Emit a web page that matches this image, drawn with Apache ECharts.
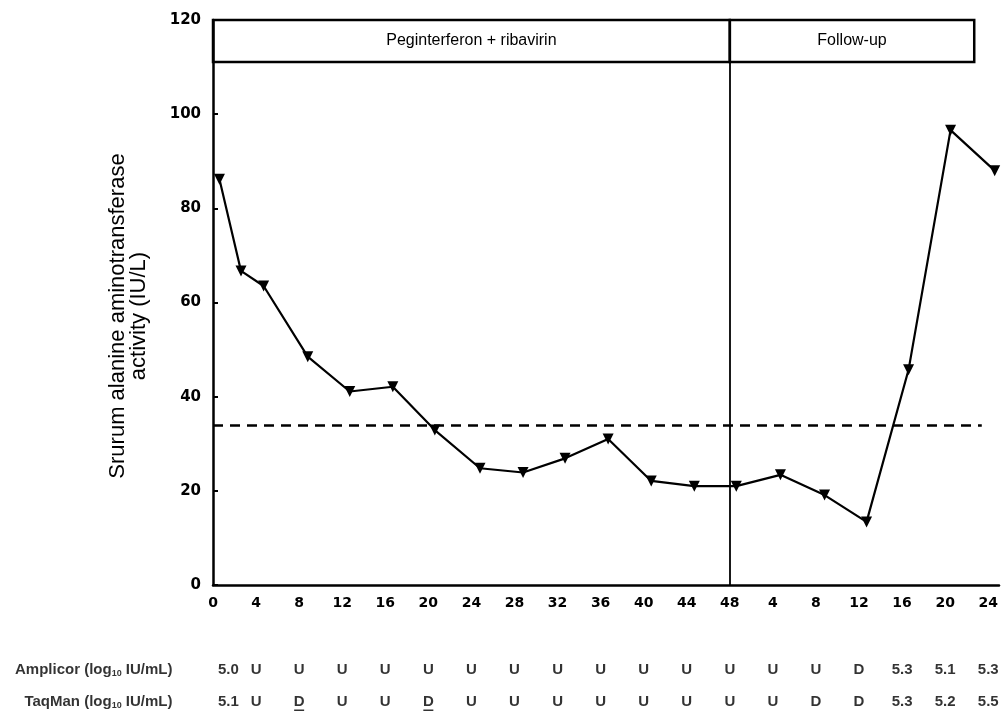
<!DOCTYPE html>
<html>
<head>
<meta charset="utf-8">
<script src="https://cdn.jsdelivr.net/npm/echarts@6/dist/echarts.min.js"></script>
<style>
html,body{margin:0;padding:0;background:#fff;}
#c{width:1002px;height:711px;}
</style>
</head>
<body>
<div id="c"></div>
<script>
// ---- data ----
var weeks = [0.6, 2.6, 4.7, 8.8, 12.7, 16.7, 20.6, 24.8, 28.8, 32.7, 36.7, 40.7, 44.7, 48.6, 52.7, 56.8, 60.7, 64.6, 68.5, 72.6];
var alt = [86.2, 66.7, 63.5, 48.5, 41.1, 42.1, 32.9, 24.8, 23.9, 26.9, 31.0, 22.1, 21.0, 21.0, 23.4, 19.1, 13.4, 45.7, 96.6, 88.0];
var normalLimit = 34;
var normalLimitEnd = 71.4;
var treatmentEnd = 48;
var headerBottom = 111.1;
var headerEnd = 70.7;
var phases = ['Peginterferon + ribavirin', 'Follow-up'];
var colWeeks = [0, 4, 8, 12, 16, 20, 24, 28, 32, 36, 40, 44, 48, 52, 56, 60, 64, 68, 72];
var rowNames = ['Amplicor', 'TaqMan'];
var amplicor = ['5.0','U','U','U','U','U','U','U','U','U','U','U','U','U','U','D','5.3','5.1','5.3'];
var taqman = ['5.1','U','D','U','U','D','U','U','U','U','U','U','U','U','D','D','5.3','5.2','5.5'];
var taqmanUnderlined = [2, 5];
var yTitle = ['Srurum alanine aminotransferase', 'activity (IU/L)'];

var linePts = weeks.map(function (w, i) { return [w, alt[i]]; });
var rows = [amplicor, taqman];
var textPts = [];
rows.forEach(function (r, ri) {
  r.forEach(function (t, ci) { textPts.push({ value: [colWeeks[ci], ri], txt: t, first: ci === 0 }); });
});
var ulPts = taqmanUnderlined.map(function (ci) { return [colWeeks[ci], 1]; });
var rowLabelPts = rowNames.map(function (n, ri) { return { value: [0, ri], name: n }; });

var FONT = 'DejaVu Sans';
var chart = echarts.init(document.getElementById('c'));
chart.setOption({
  animation: false,
  backgroundColor: '#fff',
  grid: [
    { left: 213, right: 3, top: 20, bottom: 126 },
    { left: 213, right: 3, top: 654, bottom: 0 }
  ],
  xAxis: [
    {
      type: 'value', min: 0, max: 73, interval: 4, gridIndex: 0,
      axisLine: { lineStyle: { color: '#000', width: 2.5 } },
      axisTick: { show: false },
      splitLine: { show: false },
      axisLabel: {
        color: '#000', fontFamily: FONT, fontWeight: 'bold', fontSize: 14, margin: 11,
        formatter: function (v) { if (v % 4 !== 0) return ''; return v > 48 ? String(v - 48) : String(v); }
      }
    },
    { type: 'value', min: 0, max: 73, gridIndex: 1, show: false }
  ],
  yAxis: [
    {
      type: 'value', min: 0, max: 120, interval: 20, gridIndex: 0,
      axisLine: { show: true, lineStyle: { color: '#000', width: 2.5 } },
      axisTick: { show: true, inside: true, length: 5, lineStyle: { color: '#000', width: 2 } },
      splitLine: { show: false },
      axisLabel: { color: '#000', fontFamily: FONT, fontWeight: 'bold', fontSize: 15, margin: 12 }
    },
    { type: 'value', min: -0.5, max: 1.3, inverse: true, gridIndex: 1, show: false }
  ],
  graphic: [{
    type: 'text', x: 128, y: 316, rotation: Math.PI / 2,
    style: {
      text: yTitle.join('\n'), textAlign: 'center', textVerticalAlign: 'middle',
      fontFamily: 'Liberation Sans', fontSize: 22, lineHeight: 21, fill: '#000'
    }
  }],
  series: [
    {
      type: 'line', xAxisIndex: 0, yAxisIndex: 0, data: linePts,
      symbol: 'triangle', symbolRotate: 180, symbolSize: 11,
      lineStyle: { color: '#000', width: 2.2 },
      itemStyle: { color: '#000' },
      z: 5,
      markLine: {
        silent: true, symbol: 'none', label: { show: false },
        data: [
          [{ coord: [0, normalLimit], lineStyle: { type: [10, 7], width: 2.5, color: '#000' } }, { coord: [normalLimitEnd, normalLimit] }],
          [{ coord: [treatmentEnd, 0], lineStyle: { type: 'solid', width: 1.8, color: '#000' } }, { coord: [treatmentEnd, 120] }]
        ]
      },
      markArea: {
        silent: true,
        itemStyle: { color: 'rgba(0,0,0,0)', borderColor: '#000', borderWidth: 2.5 },
        label: { position: 'inside', color: '#000', fontFamily: 'Liberation Sans', fontSize: 16 },
        data: [
          [{ name: phases[0], coord: [0, headerBottom] }, { coord: [treatmentEnd, 120] }],
          [{ name: phases[1], coord: [treatmentEnd, headerBottom] }, { coord: [headerEnd, 120] }]
        ]
      }
    },
    {
      type: 'scatter', xAxisIndex: 1, yAxisIndex: 1, symbolSize: 1,
      itemStyle: { color: 'rgba(0,0,0,0)' },
      data: textPts.map(function (p) {
        return {
          value: p.value,
          label: {
            show: true, position: 'inside', formatter: p.txt,
            align: p.first ? 'left' : 'center', offset: p.first ? [5, 0] : [0, 0],
            fontFamily: 'Liberation Sans', fontWeight: 'bold', fontSize: 15, color: '#000'
          }
        };
      })
    },
    {
      type: 'scatter', xAxisIndex: 1, yAxisIndex: 1, symbolSize: 1,
      itemStyle: { color: 'rgba(0,0,0,0)' },
      data: rowLabelPts,
      label: {
        show: true, position: 'left', distance: 40,
        formatter: function (p) { return '{a|' + p.name + ' (log}{s|10}{a| IU/mL)}'; },
        rich: {
          a: { fontFamily: 'Liberation Sans', fontWeight: 'bold', fontSize: 15, color: '#000' },
          s: { fontFamily: 'Liberation Sans', fontWeight: 'bold', fontSize: 9, color: '#000', padding: [8, 0, 0, 0] }
        }
      }
    },
    {
      type: 'scatter', xAxisIndex: 1, yAxisIndex: 1, symbol: 'rect', symbolSize: [10, 2], symbolOffset: [0, 9],
      itemStyle: { color: '#000' }, data: ulPts
    }
  ]
});
</script>
</body>
</html>
